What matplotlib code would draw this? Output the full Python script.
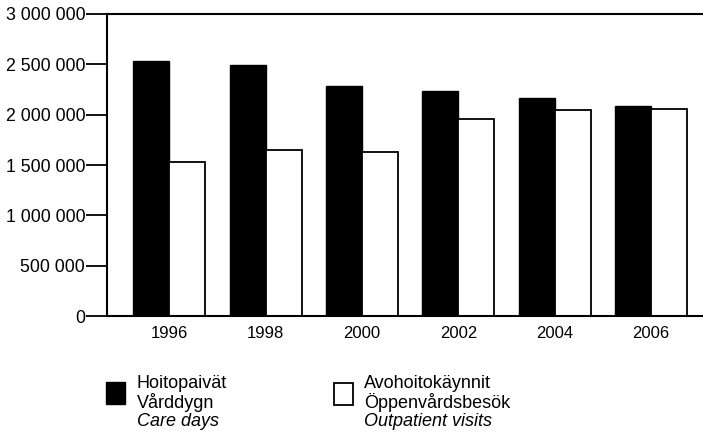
import matplotlib.pyplot as plt
from matplotlib.patches import Rectangle
import numpy as np

plt.rcParams['font.family'] = ['Liberation Sans', 'DejaVu Sans']

years = ['1996', '1998', '2000', '2002', '2004', '2006']
care_days = [2536000, 2493000, 2285000, 2232000, 2169000, 2086000]
outpatient_visits = [1527000, 1652000, 1626000, 1960000, 2046000, 2056000]
yticks = [0, 500000, 1000000, 1500000, 2000000, 2500000, 3000000]
ytick_labels = ['0', '500 000', '1 000 000', '1 500 000', '2 000 000', '2 500 000', '3 000 000']

fig = plt.figure(figsize=(7.03, 4.41), dpi=100)
ax = fig.add_axes([0.1518, 0.2834, 0.8482, 0.6849])

x = np.arange(len(years))
w = 0.375
ax.bar(x - w / 2, care_days, w, color='black', edgecolor='black', linewidth=1)
ax.bar(x + w / 2, outpatient_visits, w, color='white', edgecolor='black', linewidth=1.3)

ax.set_xlim(-0.65, 5.54)
ax.set_ylim(0, 3000000)
ax.set_yticks(yticks)
ax.set_yticklabels(ytick_labels, fontsize=12.8)
ax.set_xticks(x)
ax.set_xticklabels(years, fontsize=12)
ax.tick_params(axis='y', length=15, width=1.3, pad=0.5)
ax.tick_params(axis='x', length=0, pad=7)
ax.spines['right'].set_visible(False)
for s in ['left', 'top', 'bottom']:
    ax.spines[s].set_linewidth(1.5)

# legend drawn by hand below the axes
W, H = 703.0, 441.0
fig.add_artist(Rectangle((106 / W, 1 - 404 / H), 19 / W, 22 / H, transform=fig.transFigure,
                         facecolor='black', edgecolor='black', lw=1))
fig.add_artist(Rectangle((334 / W, 1 - 405 / H), 19 / W, 22 / H, transform=fig.transFigure,
                         facecolor='white', edgecolor='black', lw=1.3))

fs = 13
for xpix, lines in [(137, ['Hoitopaivät', 'Vårddygn', 'Care days']),
                    (364, ['Avohoitokäynnit', 'Öppenvårdsbesök', 'Outpatient visits'])]:
    for i, (t, yp) in enumerate(zip(lines, [383, 402, 421])):
        fig.text(xpix / W, 1 - yp / H, t, fontsize=fs, va='center', ha='left',
                 style='italic' if i == 2 else 'normal')

fig.savefig('out.png', dpi=100)
